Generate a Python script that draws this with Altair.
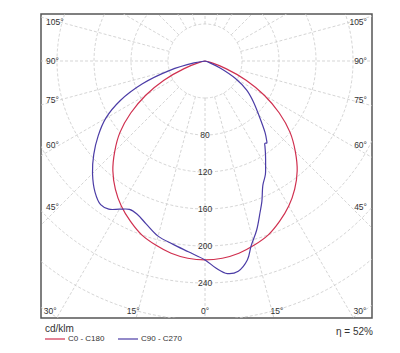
import altair as alt
import pandas as pd
import numpy as np

# ---------------- data (cd/klm) ----------------
red_angles = [-90, -85, -80, -75, -70, -65, -60, -55, -50, -45, -40, -35, -30, -25, -20, -15, -10, -5,
              0, 5, 10, 15, 20, 25, 30, 35, 40, 45, 50, 55, 60, 65, 70, 75, 80, 85, 90]
red_values = [0, 0, 0, 7, 24, 49, 74, 98, 120, 138, 155, 169, 181, 191, 200, 206, 211, 214,
              215, 214, 211, 206, 200, 191, 181, 169, 155, 138, 120, 98, 74, 49, 24, 7, 0, 0, 0]

blue_angles = [-90, -85, -80, -75, -70, -65, -60, -55, -50, -45, -40, -36, -33, -30, -27, -24, -20, -15, -10, -5,
               0, 3, 6, 9, 12, 14, 17, 20, 22, 25, 28, 30, 33, 35, 36, 37, 38, 40, 45, 50, 55, 60, 65, 70, 75, 90]
blue_values = [0, 0, 12, 40, 72, 101, 124, 141, 157, 172, 185, 192, 191, 185, 180, 181, 187, 196, 201, 207,
               215, 224, 231, 230, 220, 206, 191, 174, 164, 148, 139, 131, 120, 113, 110, 111, 108, 101, 82, 68, 55, 38, 18, 5, 0, 0]

series_names = ["C0 - C180", "C90 - C270"]
series_colors = ["#d0304f", "#4b3ca6"]

grid_radii = [40, 80, 120, 160, 200, 240, 280, 320, 360]
spoke_angles = list(range(0, 360, 15))
radial_labels = [80, 120, 160, 200, 240]
side_label_angles = [105, 90, 75, 60, 45]
bottom_label_angles = [-30, -15, 0, 15, 30]
efficiency_text = "η = 52%"
unit_text = "cd/klm"

# ---------------- tables ----------------
curves = pd.concat([
    pd.DataFrame({"series": series_names[0], "angle": red_angles, "value": red_values}),
    pd.DataFrame({"series": series_names[1], "angle": blue_angles, "value": blue_values}),
])

circ_t = np.arange(0, 361, 2)
circles = pd.DataFrame([{"radius": r, "t": t} for r in grid_radii for t in circ_t])
spokes = pd.DataFrame({"angle": spoke_angles})
rlab = pd.DataFrame({"r": radial_labels, "label": [str(v) for v in radial_labels]})
side = pd.DataFrame({"angle": side_label_angles, "label": [f"{a}°" for a in side_label_angles]})
bottom = pd.DataFrame({"angle": bottom_label_angles, "label": [f"{abs(a)}°" for a in bottom_label_angles]})

W, H = 331, 304
xs = alt.Scale(domain=[-177.3, 180.5], nice=False, zero=False)
ys = alt.Scale(domain=[-277.8, 50.8], nice=False, zero=False)

def X(f):
    return alt.X(f, type="quantitative", scale=xs, axis=None)

def Y(f):
    return alt.Y(f, type="quantitative", scale=ys, axis=None)

grid_color = "#cacaca"
font = "Liberation Sans"
txt = "#333333"

circle_layer = alt.Chart(circles).transform_calculate(
    x="datum.radius*sin(datum.t*PI/180)",
    y="-datum.radius*cos(datum.t*PI/180)",
).mark_line(clip=True, color=grid_color, strokeWidth=0.8, strokeDash=[3, 2]).encode(
    x=X("x"), y=Y("y"), detail="radius:N", order="t:Q"
)

spoke_layer = alt.Chart(spokes).transform_calculate(
    x1="40*sin(datum.angle*PI/180)",
    y1="-40*cos(datum.angle*PI/180)",
    x2="420*sin(datum.angle*PI/180)",
    y2="-420*cos(datum.angle*PI/180)",
).mark_rule(clip=True, color=grid_color, strokeWidth=0.8, strokeDash=[3, 2]).encode(
    x=X("x1"), y=Y("y1"), x2="x2:Q", y2="y2:Q"
)

curve_layer = alt.Chart(curves).transform_calculate(
    x="datum.value*sin(datum.angle*PI/180)",
    y="-datum.value*cos(datum.angle*PI/180)",
).mark_line(strokeWidth=1.2, clip=True, interpolate="catmull-rom").encode(
    x=X("x"), y=Y("y"), order="angle:Q",
    color=alt.Color("series:N", scale=alt.Scale(domain=series_names, range=series_colors),
                    legend=alt.Legend(orient="none", legendX=3, legendY=314, direction="horizontal",
                                      title=None, labelFont=font,
                                      labelFontSize=8, labelColor=txt,
                                      symbolType="stroke", symbolSize=400, symbolStrokeWidth=1.2,
                                      columnPadding=10, labelOffset=2, padding=0)),
)

rlab_layer = alt.Chart(rlab).transform_calculate(y="-datum.r", x="0").mark_text(
    fontSize=8.5, font=font, color=txt, baseline="middle", align="center"
).encode(x=X("x"), y=Y("y"), text="label:N")

left_lab = alt.Chart(side).transform_calculate(
    y="-158*cos(datum.angle*PI/180)/sin(datum.angle*PI/180)"
).mark_text(fontSize=8.5, font=font, color=txt, baseline="middle", align="left").encode(
    x=alt.value(5), y=Y("y"), text="label:N"
)
right_lab = alt.Chart(side).transform_calculate(
    y="-158*cos(datum.angle*PI/180)/sin(datum.angle*PI/180)"
).mark_text(fontSize=8.5, font=font, color=txt, baseline="middle", align="right").encode(
    x=alt.value(326), y=Y("y"), text="label:N"
)
bottom_lab = alt.Chart(bottom).transform_calculate(
    x="290*tan(datum.angle*PI/180)"
).mark_text(fontSize=8.5, font=font, color=txt, baseline="middle", align="center").encode(
    x=X("x"), y=alt.value(297), text="label:N"
)

unit_layer = alt.Chart(pd.DataFrame({"t": [unit_text]})).mark_text(
    fontSize=10, font=font, color=txt, baseline="middle", align="left"
).encode(x=alt.value(4), y=alt.value(315), text="t:N")

eta_layer = alt.Chart(pd.DataFrame({"t": [efficiency_text]})).mark_text(
    fontSize=10, font=font, color=txt, baseline="middle", align="right"
).encode(x=alt.value(332), y=alt.value(318), text="t:N")

chart = alt.layer(
    circle_layer, spoke_layer, rlab_layer, left_lab, right_lab, bottom_lab, curve_layer,
    unit_layer, eta_layer
).properties(
    width=W, height=H,
    autosize=alt.AutoSizeParams(type="none"),
    padding={"left": 41, "top": 14, "right": 28, "bottom": 35},
    background="white",
).configure_view(stroke="#555555", strokeWidth=1.5)

chart.save("out.html", embed_options={"renderer": "svg", "actions": False})
